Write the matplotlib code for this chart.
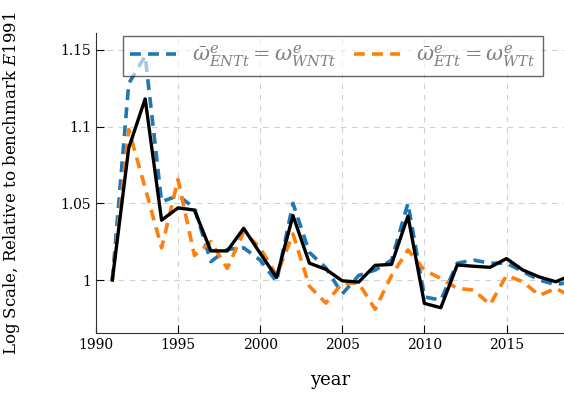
import matplotlib
matplotlib.use("Agg")
import matplotlib.pyplot as plt

plt.rcParams['font.family'] = ['DejaVu Serif']
plt.rcParams['mathtext.fontset'] = 'dejavuserif'

years = list(range(1991, 2020))

# omega_bar ENT = omega WNT
ent = [1.000, 1.128, 1.146, 1.051, 1.055, 1.047, 1.012, 1.020, 1.021, 1.013,
       0.999, 1.050, 1.018, 1.008, 0.991, 1.003, 1.0065, 1.013, 1.050, 0.989,
       0.987, 1.011, 1.013, 1.011, 1.011, 1.0055, 1.000, 0.997, 0.999]
# omega_bar ET = omega WT
et = [1.000, 1.098, 1.060, 1.021, 1.0655, 1.016, 1.025, 1.0076, 1.0315, 1.021,
      1.003, 1.030, 0.996, 0.985, 0.998, 0.998, 0.981, 1.003, 1.0196, 1.0065,
      1.001, 0.9946, 0.9935, 0.984, 1.003, 0.9989, 0.990, 0.9946, 0.989]
# benchmark
bench = [1.000, 1.086, 1.118, 1.039, 1.047, 1.0456, 1.019, 1.019, 1.0337, 1.0175,
         1.0017, 1.042, 1.011, 1.007, 0.9995, 0.9987, 1.0096, 1.0102, 1.0417, 0.9848,
         0.982, 1.0098, 1.009, 1.0083, 1.014, 1.0065, 1.002, 0.9989, 1.0034]

fig = plt.figure(figsize=(5.64, 3.96), dpi=100)
ax = fig.add_axes([0.170, 0.159, 0.830, 0.758])

ax.plot(years, ent, color='#1f77b4', lw=2.6, ls=(0, (3, 2)),
        label=r'$\bar{\omega}^e_{ENTt} = \omega^e_{WNTt}$')
ax.plot(years, et, color='#ff7f0e', lw=2.6, ls=(0, (3, 2)),
        label=r'$\bar{\omega}^e_{ETt} = \omega^e_{WTt}$')
ax.plot(years, bench, color='black', lw=2.4)

ax.set_xlim(1990, 2018.5)
ax.set_ylim(0.9655, 1.161)
ax.set_xticks([1990, 1995, 2000, 2005, 2010, 2015])
ax.set_yticks([1.0, 1.05, 1.1, 1.15])
ax.set_yticklabels(['1', '1.05', '1.1', '1.15'])

ax.grid(True, color='#d0d0d0', ls=(0, (5, 5)), lw=0.8)
ax.set_axisbelow(True)
ax.spines['top'].set_visible(False)
ax.spines['right'].set_visible(False)
ax.spines['left'].set_color('#333333')
ax.spines['bottom'].set_color('#333333')
ax.tick_params(direction='in', length=6, labelsize=10, colors='black')

ax.set_xlabel('year', fontsize=13)
ax.xaxis.set_label_coords(0.5, -0.125)
ax.set_ylabel(r'Log Scale, Relative to benchmark $E1991$', fontsize=12)
ax.yaxis.set_label_coords(-0.158, 0.5)

leg = ax.legend(loc='upper center', bbox_to_anchor=(0.506, 1.0), ncol=2,
                fontsize=15, labelcolor='gray', framealpha=0.6,
                edgecolor='black', fancybox=False, borderaxespad=0.15,
                handlelength=2.2, columnspacing=0.8, borderpad=0.35)
leg.get_frame().set_linewidth(1.0)

fig.savefig('out.png', dpi=100)
